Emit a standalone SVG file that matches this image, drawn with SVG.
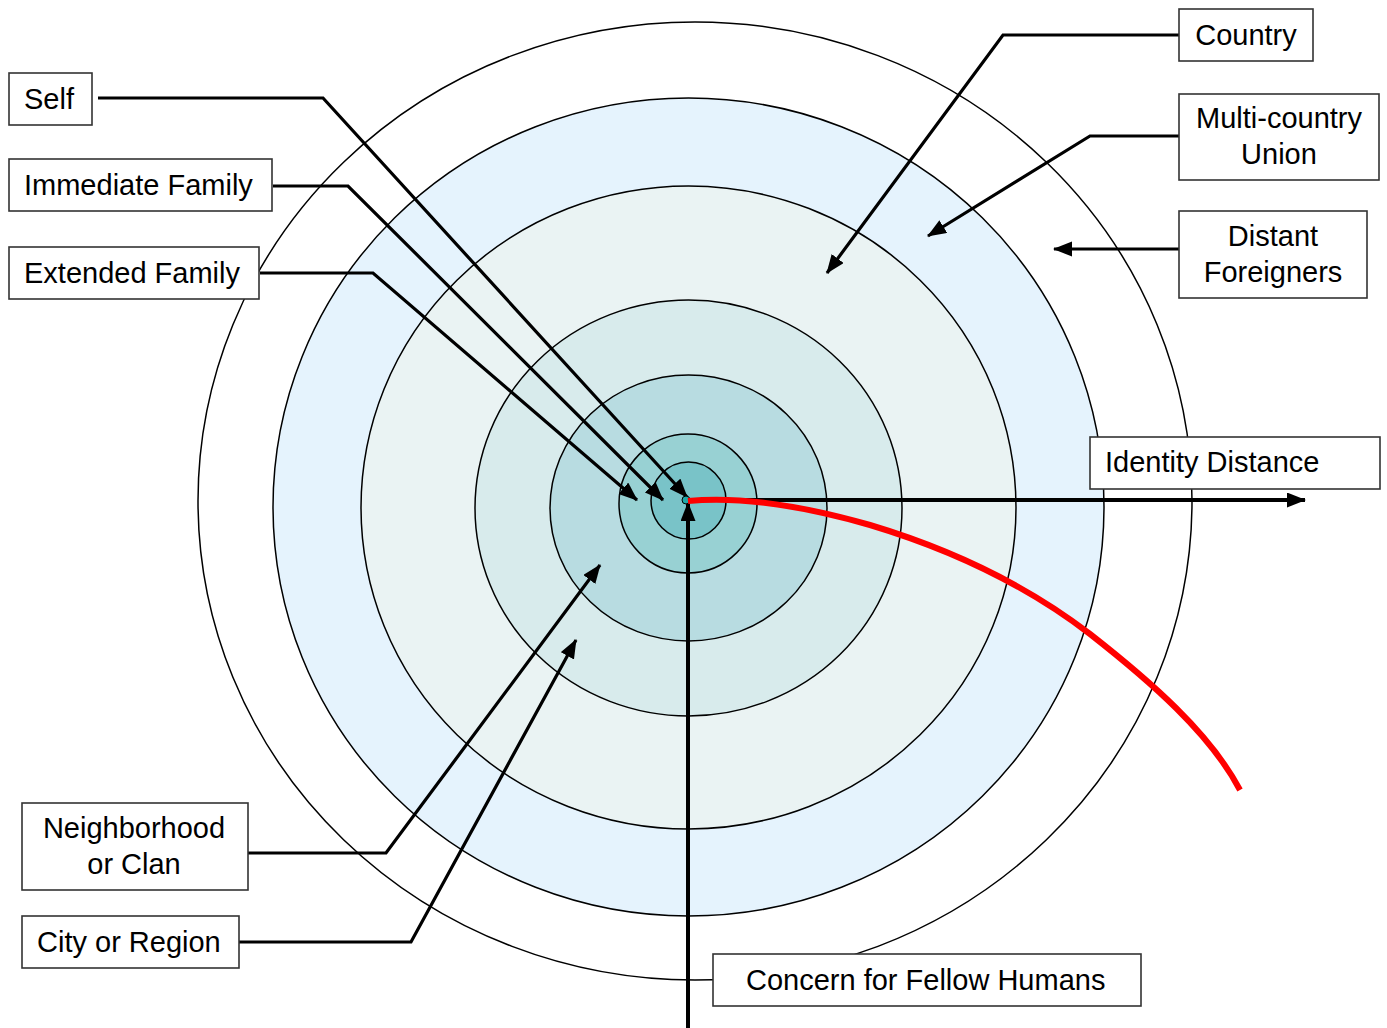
<svg xmlns="http://www.w3.org/2000/svg" width="1387" height="1028" viewBox="0 0 1387 1028">
<style>
.ring{stroke:#000;stroke-width:1.5}
.box{fill:#fff;stroke:#333;stroke-width:1.6}
.lbl{font-family:"Liberation Sans",Arial,sans-serif;font-size:29px;fill:#000}
.mid{text-anchor:middle}
.conn{fill:none;stroke:#000;stroke-width:3.2}
.axis{fill:none;stroke:#000;stroke-width:4}
</style>
<defs>
<marker id="ah" markerUnits="userSpaceOnUse" markerWidth="20" markerHeight="16" refX="18" refY="7.5" orient="auto">
<path d="M0,0 L19,7.5 L0,15 Z" fill="#000"/>
</marker>
</defs>
<rect width="1387" height="1028" fill="#fff"/>
<g id="rings">
<ellipse class="ring" cx="695" cy="501" rx="497" ry="479" fill="#fff"/>
<ellipse class="ring" cx="688.5" cy="507" rx="415.5" ry="409" fill="#e5f3fd"/>
<ellipse class="ring" cx="688.5" cy="507.5" rx="327.5" ry="321.5" fill="#eaf3f3"/>
<ellipse class="ring" cx="688.5" cy="508" rx="213.5" ry="208" fill="#d8ebec"/>
<ellipse class="ring" cx="688.5" cy="508" rx="138.5" ry="133" fill="#b8dce1"/>
<ellipse class="ring" cx="688" cy="503.5" rx="69" ry="69.5" fill="#98d1d3"/>
<ellipse class="ring" cx="688.5" cy="500.5" rx="37.5" ry="38.5" fill="#79c3c8"/>
</g>
<g id="connectors">
<polyline class="conn" points="98,98 323,98 687,497" marker-end="url(#ah)"/>
<polyline class="conn" points="273,186 348,186 663,500" marker-end="url(#ah)"/>
<polyline class="conn" points="260,273 373,273 637,500" marker-end="url(#ah)"/>
<polyline class="conn" points="1179,35 1003,35 827,273" marker-end="url(#ah)"/>
<polyline class="conn" points="1179,136 1090,136 928,236" marker-end="url(#ah)"/>
<polyline class="conn" points="1179,249 1054,249" marker-end="url(#ah)"/>
<polyline class="conn" points="248,853 386,853 600,565" marker-end="url(#ah)"/>
<polyline class="conn" points="237,942 411,942 576,640" marker-end="url(#ah)"/>
<line class="axis" x1="688" y1="500" x2="1305" y2="500" marker-end="url(#ah)"/>
<line class="axis" x1="688" y1="1028" x2="688" y2="503" marker-end="url(#ah)"/>
<circle cx="686" cy="500" r="4" fill="#20a8a8" stroke="#000" stroke-width="1"/>
<path d="M688,501 C740,496 800,505 870,525 C960,552 1030,588 1090,634 C1150,681 1210,733 1240,790" fill="none" stroke="#ff0000" stroke-width="6"/>
</g>
<g id="self"><rect class="box" x="9" y="73" width="83" height="52"/><text class="lbl" x="24" y="109">Self</text></g>
<g id="immediate-family"><rect class="box" x="9" y="159" width="263" height="52"/><text class="lbl" x="24" y="195">Immediate Family</text></g>
<g id="extended-family"><rect class="box" x="9" y="247" width="250" height="52"/><text class="lbl" x="24" y="283">Extended Family</text></g>
<g id="country"><rect class="box" x="1179" y="9" width="134" height="52"/><text class="lbl mid" x="1246" y="45">Country</text></g>
<g id="multi-country-union"><rect class="box" x="1179" y="94" width="200" height="86"/><text class="lbl mid" x="1279" y="128">Multi-country</text><text class="lbl mid" x="1279" y="164">Union</text></g>
<g id="distant-foreigners"><rect class="box" x="1179" y="211" width="188" height="87"/><text class="lbl mid" x="1273" y="246">Distant</text><text class="lbl mid" x="1273" y="282">Foreigners</text></g>
<g id="identity-distance"><rect class="box" x="1090" y="437" width="290" height="52"/><text class="lbl" x="1105" y="472">Identity Distance</text></g>
<g id="neighborhood"><rect class="box" x="22" y="803" width="226" height="87"/><text class="lbl mid" x="134" y="838">Neighborhood</text><text class="lbl mid" x="134" y="874">or Clan</text></g>
<g id="city-region"><rect class="box" x="22" y="916" width="217" height="52"/><text class="lbl" x="37" y="952">City or Region</text></g>
<g id="concern"><rect class="box" x="713" y="954" width="428" height="52"/><text class="lbl" x="746" y="990">Concern for Fellow Humans</text></g>
</svg>
